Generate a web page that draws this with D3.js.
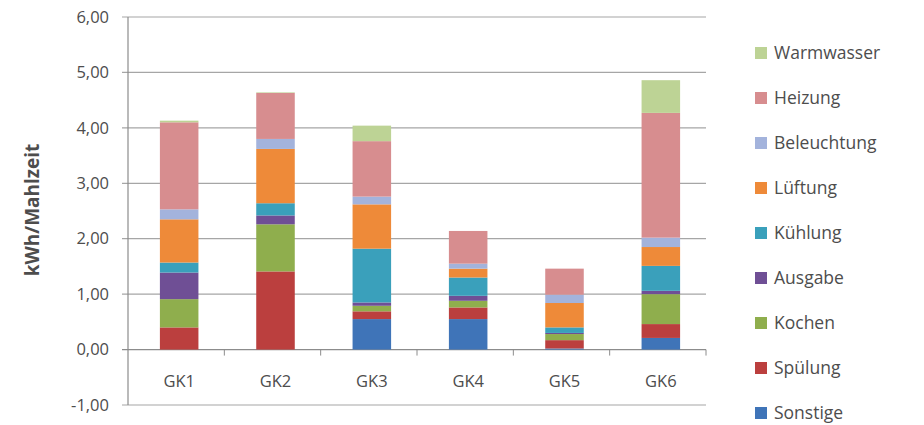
<!DOCTYPE html>
<html>
<head>
<meta charset="utf-8">
<script src="https://cdn.jsdelivr.net/npm/d3@7"></script>
<style>
  body { margin: 0; background: #fff; }
  text { font-family: "Open Sans", "Noto Sans", sans-serif; fill: #4d4d4d; }
</style>
</head>
<body>
<div id="chart"></div>
<script>
// data
var categories = ["GK1", "GK2", "GK3", "GK4", "GK5", "GK6"];
var seriesNames = ["Sonstige", "Spülung", "Kochen", "Ausgabe", "Kühlung", "Lüftung", "Beleuchtung", "Heizung", "Warmwasser"];
var sonstige    = [0.00, 0.00, 0.55, 0.55, 0.02, 0.21];
var spuelung    = [0.40, 1.41, 0.14, 0.21, 0.15, 0.25];
var kochen      = [0.51, 0.85, 0.10, 0.12, 0.11, 0.54];
var ausgabe     = [0.48, 0.16, 0.06, 0.09, 0.02, 0.06];
var kuehlung    = [0.18, 0.22, 0.97, 0.33, 0.10, 0.45];
var lueftung    = [0.78, 0.98, 0.80, 0.16, 0.44, 0.34];
var beleuchtung = [0.18, 0.18, 0.14, 0.09, 0.15, 0.17];
var heizung     = [1.57, 0.83, 1.00, 0.59, 0.47, 2.25];
var warmwasser  = [0.03, 0.01, 0.28, 0.00, 0.00, 0.59];
var yTicks = [-1, 0, 1, 2, 3, 4, 5, 6];

var colors = ["#3f74b8", "#bb3f3e", "#8fae4d", "#6f4f95", "#3aa0bb", "#ee8a39", "#a3b3dc", "#d78d8f", "#bdd395"];

var values = [sonstige, spuelung, kochen, ausgabe, kuehlung, lueftung, beleuchtung, heizung, warmwasser];

// size and margin
var width = 924;
var height = 425;
var margin = {top: 17, right: 218, bottom: 20, left: 128};
var inner_width = width - margin.left - margin.right;
var inner_height = height - margin.top - margin.bottom;

var svg = d3.select("#chart")
            .append("svg")
            .attr("width", width)
            .attr("height", height)
            .append("g")
            .attr("transform", "translate(" + margin.left + "," + margin.top + ")");

var xScale = d3.scaleBand()
               .domain(categories)
               .range([0, inner_width])
               .paddingInner(0)
               .paddingOuter(0);
var yScale = d3.scaleLinear()
               .domain([-1, 6])
               .range([inner_height, 0]);

// German decimal comma, plain hyphen for negatives
var fmt = function(d) { return d.toFixed(2).replace(".", ","); };

// grid lines
svg.selectAll(".grid")
   .data(yTicks)
   .enter().append("line")
   .attr("x1", -6)
   .attr("x2", inner_width)
   .attr("y1", function(d) { return yScale(d); })
   .attr("y2", function(d) { return yScale(d); })
   .attr("stroke", function(d) { return d === 0 ? "#8c8c8c" : "#a6a6a6"; })
   .attr("stroke-width", 1.2);

// y axis line
svg.append("line")
   .attr("x1", 0).attr("x2", 0)
   .attr("y1", 0).attr("y2", inner_height)
   .attr("stroke", "#8c8c8c")
   .attr("stroke-width", 1.2);

// y tick labels
svg.selectAll(".ylab")
   .data(yTicks)
   .enter().append("text")
   .attr("x", -19)
   .attr("y", function(d) { return yScale(d); })
   .attr("dy", "0.35em")
   .attr("text-anchor", "end")
   .attr("font-size", 16.5)
   .text(fmt);

// category ticks on zero line
var boundaries = categories.map(function(c) { return xScale(c) + xScale.bandwidth(); });
svg.selectAll(".ctick")
   .data(boundaries)
   .enter().append("line")
   .attr("x1", function(d) { return d; })
   .attr("x2", function(d) { return d; })
   .attr("y1", yScale(0))
   .attr("y2", yScale(0) + 6)
   .attr("stroke", "#8c8c8c");

// stacked bars
var rows = categories.map(function(c, i) {
  var r = {cat: c};
  seriesNames.forEach(function(s, j) { r[s] = values[j][i]; });
  return r;
});
var stack = d3.stack().keys(seriesNames)(rows);
var barW = xScale.bandwidth() * 0.4;

svg.selectAll(".series")
   .data(stack)
   .enter().append("g")
   .attr("fill", function(d, i) { return colors[i]; })
   .selectAll("rect")
   .data(function(d) { return d; })
   .enter().append("rect")
   .attr("x", function(d) { return xScale(d.data.cat) + (xScale.bandwidth() - barW) / 2 + 3; })
   .attr("width", barW)
   .attr("y", function(d) { return yScale(d[1]); })
   .attr("height", function(d) { return yScale(d[0]) - yScale(d[1]); });

// x labels
svg.selectAll(".xlab")
   .data(categories)
   .enter().append("text")
   .attr("x", function(d) { return xScale(d) + xScale.bandwidth() / 2 + 3; })
   .attr("y", yScale(0) + 37)
   .attr("text-anchor", "middle")
   .attr("font-size", 16.5)
   .text(function(d) { return d; });

// y axis title
svg.append("text")
   .attr("transform", "translate(-89," + (210 - margin.top) + ") rotate(-90)")
   .attr("text-anchor", "middle")
   .attr("font-size", 19)
   .attr("font-weight", "bold")
   .attr("fill", "#3a3a3a")
   .text("kWh/Mahlzeit");

// legend
var legend = svg.append("g")
                .attr("transform", "translate(" + (755 - margin.left) + "," + (53 - margin.top) + ")");
var legendItems = seriesNames.slice().reverse();
var li = legend.selectAll(".li")
               .data(legendItems)
               .enter().append("g")
               .attr("transform", function(d, i) { return "translate(0," + (i * 45) + ")"; });
li.append("rect")
  .attr("x", 0)
  .attr("y", -6)
  .attr("width", 12)
  .attr("height", 12)
  .attr("fill", function(d) { return colors[seriesNames.indexOf(d)]; });
li.append("text")
  .attr("x", 19)
  .attr("dy", "0.35em")
  .attr("font-size", 17.5)
  .text(function(d) { return d; });
</script>
</body>
</html>
